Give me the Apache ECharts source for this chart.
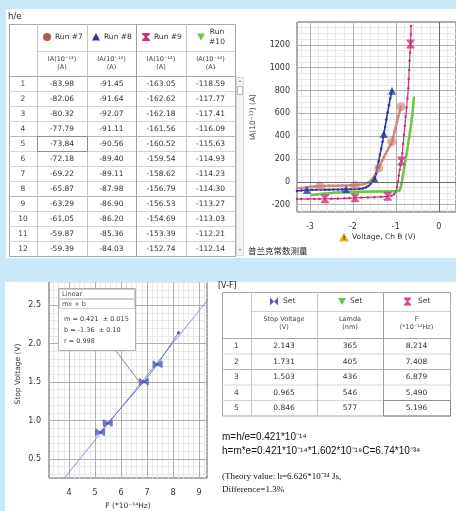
<!DOCTYPE html>
<html><head><meta charset="utf-8">
<script src="https://cdn.jsdelivr.net/npm/echarts@6/dist/echarts.min.js"></script>
<style>html,body{margin:0;padding:0;background:#cbe8f8;}#c{width:456px;height:511px;}</style>
</head><body><div id="c"></div>
<script>
// ---------- h/e table: first 12 photocurrent samples of each run (10^-13 A) ----------
const runNames = ['Run #7', 'Run #8', 'Run #9', 'Run #10'];
const run7Table = [-83.98, -82.06, -80.32, -77.79, -73.84, -72.18, -69.22, -65.87, -63.29, -61.05, -59.87, -59.39];
const run8Table = [-91.45, -91.64, -92.07, -91.11, -90.56, -89.40, -89.11, -87.98, -86.90, -86.20, -85.36, -84.03];
const run9Table = [-163.05, -162.62, -162.18, -161.56, -160.52, -159.54, -158.62, -156.79, -156.53, -154.69, -153.39, -152.74];
const run10Table = [-118.59, -117.77, -117.41, -116.09, -115.63, -114.93, -114.23, -114.30, -113.27, -113.03, -112.21, -112.14];

// ---------- I-V curves: [voltage Ch B (V), IA (10^-13 A)] ----------
const run7Curve = [[-3.30,-58],[-3.20,-54],[-3.10,-50],[-3.00,-46],[-2.90,-42],[-2.77,-38],[-2.65,-37],[-2.55,-36],[-2.45,-35],[-2.35,-34],[-2.25,-33],[-2.15,-32],[-2.05,-31],[-1.95,-30],[-1.85,-27],[-1.77,-23],[-1.70,-16],[-1.64,-6],[-1.58,10],[-1.53,32],[-1.48,60],[-1.44,88],[-1.40,120],[-1.36,152],[-1.32,184],[-1.28,214],[-1.24,244],[-1.20,272],[-1.16,300],[-1.12,326],[-1.09,351],[-1.06,392],[-1.03,438],[-1.00,483],[-0.97,530],[-0.94,576],[-0.91,617],[-0.88,658]];
const run8Curve = [[-3.30,-80],[-3.20,-77],[-3.07,-72],[-2.95,-71],[-2.85,-70],[-2.75,-70],[-2.65,-69],[-2.55,-69],[-2.45,-68],[-2.35,-68],[-2.25,-67],[-2.16,-66],[-2.05,-65],[-1.95,-64],[-1.85,-62],[-1.77,-58],[-1.70,-50],[-1.64,-38],[-1.59,-20],[-1.54,0],[-1.49,24],[-1.46,70],[-1.43,125],[-1.40,180],[-1.37,235],[-1.34,290],[-1.31,350],[-1.28,418],[-1.25,480],[-1.22,545],[-1.19,610],[-1.16,670],[-1.13,730],[-1.09,798]];
const run9Curve = [[-3.30,-152],[-3.20,-151],[-3.05,-150],[-2.90,-150],[-2.78,-150],[-2.65,-149],[-2.50,-148],[-2.35,-147],[-2.20,-145],[-2.08,-143],[-1.95,-141],[-1.80,-139],[-1.65,-137],[-1.50,-135],[-1.35,-132],[-1.19,-128],[-1.10,-122],[-1.04,-110],[-1.00,-85],[-0.97,-45],[-0.95,0],[-0.93,55],[-0.91,105],[-0.89,145],[-0.87,181],[-0.85,250],[-0.83,330],[-0.81,410],[-0.79,490],[-0.77,570],[-0.75,650],[-0.73,730],[-0.71,820],[-0.70,900],[-0.69,980],[-0.68,1060],[-0.67,1130],[-0.66,1208],[-0.65,1290],[-0.645,1366]];
const run10Curve = [[-2.96,-117],[-2.85,-112],[-2.75,-107],[-2.65,-103],[-2.55,-100],[-2.45,-97],[-2.35,-94],[-2.25,-92],[-2.15,-90],[-2.05,-89],[-1.95,-88],[-1.85,-88],[-1.75,-87],[-1.65,-87],[-1.55,-86],[-1.45,-86],[-1.35,-85],[-1.25,-85],[-1.15,-84],[-1.05,-83],[-0.97,-81],[-0.92,-76],[-0.89,-55],[-0.87,-20],[-0.85,25],[-0.83,70],[-0.81,115],[-0.79,160],[-0.77,200],[-0.75,245],[-0.73,290],[-0.71,340],[-0.69,390],[-0.67,440],[-0.65,490],[-0.63,545],[-0.61,600],[-0.60,650],[-0.59,695],[-0.58,736]];
// samples that carry the large run symbol
const run7Marks = [5, 13, 22, 30, 37];
const run8Marks = [2, 11, 20, 27, 33];
const run9Marks = [5, 10, 15, 24, 37];

// ---------- V-F table ----------
const setRows = [1, 2, 3, 4, 5];
const stopVoltage = [2.143, 1.731, 1.503, 0.965, 0.846];
const lamda = [365, 405, 436, 546, 577];
const freq = [8.214, 7.408, 6.879, 5.490, 5.196];
// linear fit  V = m*F + b
const fitM = 0.421, fitMErr = 0.015, fitB = -1.36, fitBErr = 0.10, fitR = 0.998;
const fitRange = [3.8, 9.4];

const C7 = '#c97a70', C8 = '#2b3a9e', C9 = '#c8347a', C10 = '#6cc64c', CSET = '#4d5ab4';
const BG = '#cbe8f8';
const FONT = '"DejaVu Sans"';
const HOURGLASS = 'path://M0,0 L10,0 L10,1.5 L6,5 L10,8.5 L10,10 L0,10 L0,8.5 L4,5 L0,1.5 Z';
const BOWTIE = 'path://M0,0 L1.5,0 L5,4 L8.5,0 L10,0 L10,10 L8.5,10 L5,6 L1.5,10 L0,10 Z';

const chart = echarts.init(document.getElementById('c'), null, {width: 456, height: 511});

function majorAxis(grid, min, max, step, fmt, extra, margin) {
  return Object.assign({
    type: 'value', gridIndex: grid, min, max, minInterval: step, maxInterval: step, z: 3,
    axisLine: {show: false}, axisTick: {show: false},
    axisLabel: {fontSize: 8, color: '#333', fontFamily: FONT, showMinLabel: false, showMaxLabel: false, formatter: fmt, margin: margin || 8},
    splitLine: {show: true, lineStyle: {color: '#b0b0b0', width: 1}}
  }, extra || {});
}
function minorAxis(grid, min, max, step) {
  return {
    type: 'value', gridIndex: grid, min, max, minInterval: step, maxInterval: step, z: 1,
    axisLine: {show: false}, axisTick: {show: false}, axisLabel: {show: false},
    splitLine: {show: true, lineStyle: {color: '#e8e8e8', width: 1}}
  };
}
function curve(data, color, width, xi, yi) {
  return {type: 'line', xAxisIndex: xi, yAxisIndex: yi, data, symbol: 'circle', symbolSize: 2.5,
    showSymbol: true, lineStyle: {color, width}, itemStyle: {color}, silent: true, animation: false, z: 3};
}
function marks(curveData, idx, color, symbol, size) {
  return {type: 'scatter', xAxisIndex: 0, yAxisIndex: 0, data: idx.map(i => curveData[i]),
    symbol, symbolSize: size, itemStyle: {color}, silent: true, animation: false, z: 4};
}

const fitLine = fitRange.map(f => [f, fitM * f + fitB]);
const setPoints = freq.map((f, i) => [f, stopVoltage[i]]);
const setSorted = setPoints.slice().sort((a, b) => a[0] - b[0]);

chart.setOption({
  animation: false,
  backgroundColor: BG,
  grid: [
    {left: 297, top: 22, width: 160, height: 190, show: true, borderColor: '#555', borderWidth: 1, backgroundColor: 'transparent'},
    {left: 49, top: 270, width: 158, height: 210, show: true, borderColor: '#555', borderWidth: 1, backgroundColor: 'transparent'}
  ],
  xAxis: [
    majorAxis(0, -3.3, 0.4, 1, v => String(v), null, 11),
    minorAxis(0, -3.3, 0.4, 0.2),
    majorAxis(1, 3.23, 9.31, 1, v => String(v), {name: 'F (*10\u207B\u00B9\u2074Hz)', nameLocation: 'middle', nameGap: 24,
      nameTextStyle: {fontSize: 7.5, color: '#333', fontFamily: FONT}}, 11),
    minorAxis(1, 3.23, 9.31, 0.2)
  ],
  yAxis: [
    majorAxis(0, -265, 1400, 200, v => String(v), {name: 'IA(10\u207B\u00B9\u00B3) (A)', nameLocation: 'middle', nameGap: 40,
      nameTextStyle: {fontSize: 7.5, color: '#333', fontFamily: FONT}}, 7),
    minorAxis(0, -265, 1400, 50),
    majorAxis(1, 0.25, 2.96, 0.5, v => v.toFixed(1), {name: 'Stop Voltage (V)', nameLocation: 'middle', nameGap: 27,
      nameTextStyle: {fontSize: 7.5, color: '#333', fontFamily: FONT}}, 8),
    minorAxis(1, 0.25, 2.96, 0.1)
  ],
  series: [
    Object.assign(curve(run7Curve, 'rgba(205,128,118,0.85)', 2.5, 0, 0), {
      markLine: {silent: true, symbol: 'none', label: {show: false}, animation: false,
        lineStyle: {color: '#6a6a6a', width: 1, type: 'solid'}, data: [{xAxis: 0}, {yAxis: 0}]}
    }),
    curve(run8Curve, C8, 1.6, 0, 0),
    curve(run9Curve, C9, 1.2, 0, 0),
    curve(run10Curve, C10, 2.5, 0, 0),
    marks(run7Curve, run7Marks, 'rgba(205,120,110,0.75)', 'circle', 9),
    marks(run8Curve, run8Marks, C8, 'triangle', 8),
    marks(run9Curve, run9Marks, C9, HOURGLASS, [8, 9]),
    {type: 'line', xAxisIndex: 2, yAxisIndex: 2, data: fitLine, symbol: 'none', lineStyle: {color: '#8a90d2', width: 1}, silent: true, z: 3},
    {type: 'line', xAxisIndex: 2, yAxisIndex: 2, data: setSorted, symbol: 'circle', symbolSize: 3, lineStyle: {color: '#7078c4', width: 1}, itemStyle: {color: CSET}, silent: true, z: 3},
    {type: 'scatter', xAxisIndex: 2, yAxisIndex: 2, data: setPoints.slice(1), symbol: BOWTIE, symbolSize: [10, 7], itemStyle: {color: CSET}, silent: true, z: 4}
  ]
});

// ---------- drawn panels, tables and notes ----------
const G = [];
function rect(x, y, w, h, style, z) { G.push({type: 'rect', shape: {x, y, width: w, height: h}, style, z: z == null ? 5 : z, silent: true}); }
function line(x1, y1, x2, y2, stroke, w, z) { G.push({type: 'line', shape: {x1, y1, x2, y2}, style: {stroke, lineWidth: w || 1}, z: z == null ? 6 : z, silent: true}); }
function text(x, y, t, o) {
  o = o || {};
  G.push({type: 'text', x, y, z: o.z == null ? 7 : o.z, silent: true,
    style: {text: t, fill: o.fill || '#333', font: o.font || ('7.5px ' + FONT),
      textAlign: o.align || 'center', textVerticalAlign: o.valign || 'middle',
      align: o.align || 'center', verticalAlign: o.valign || 'middle'}});
}
function poly(points, fill, z) { G.push({type: 'polygon', shape: {points}, style: {fill}, z: z == null ? 7 : z, silent: true}); }

// white panels
rect(6, 9, 450, 249, {fill: '#ffffff'}, -10);
rect(5, 282, 451, 229, {fill: '#ffffff'}, -10);
// band between the panels (also trims the top of the V-F plot)
rect(0, 258, 456, 24, {fill: BG}, 100);

// ---- h/e table ----
text(8, 17, 'h/e', {align: 'left', font: '8.5px ' + FONT, fill: '#222'});
const tX = [9, 37, 87, 136, 186, 235];
const tY0 = 24, tY1 = 51, tY2 = 76, tRow = 15;
const runCols = [run7Table, run8Table, run9Table, run10Table];
rect(tX[0] + 0.5, tY0 + 0.5, tX[5] - tX[0], tY2 + tRow * 12 - tY0, {fill: 'none', stroke: '#a8a8a8', lineWidth: 1}, 6);
line(tX[1] + 0.5, tY1 + 0.5, tX[5], tY1 + 0.5, '#d0d0d0');
line(tX[0], tY2 + 0.5, tX[5], tY2 + 0.5, '#a8a8a8');
for (let r = 1; r < 12; r++) line(tX[0], tY2 + r * tRow + 0.5, tX[5], tY2 + r * tRow + 0.5, r % 4 === 0 ? '#b8b8b8' : '#d4d4d4');
for (let c = 1; c < 5; c++) line(tX[c] + 0.5, tY0, tX[c] + 0.5, tY2 + tRow * 12, c === 3 ? '#a0a0a0' : '#c4c4c4');
// legend symbols in the header
G.push({type: 'circle', shape: {cx: 47, cy: 37, r: 4}, style: {fill: '#b8524e'}, z: 7, silent: true});
poly([[92, 40.5], [100, 40.5], [96, 33]], C8);
poly([[142, 33], [150, 33], [150, 34.2], [147, 37], [150, 39.8], [150, 41], [142, 41], [142, 39.8], [145, 37], [142, 34.2]], C9);
poly([[197, 33.5], [205, 33.5], [201, 40.5]], C10);
text(55, 37, runNames[0], {align: 'left'});
text(104, 37, runNames[1], {align: 'left'});
text(154, 37, runNames[2], {align: 'left'});
text(217, 32, runNames[3].split(' ')[0]);
text(217, 42, runNames[3].split(' ')[1]);
for (let c = 0; c < 4; c++) {
  const cx = (tX[c + 1] + tX[c + 2]) / 2;
  text(cx, 59, 'IA(10\u207B\u00B9\u00B3)', {font: '6.5px ' + FONT, fill: '#444'});
  text(cx, 67, '(A)', {font: '6.5px ' + FONT, fill: '#444'});
}
for (let r = 0; r < 12; r++) {
  const cy = tY2 + r * tRow + tRow / 2 + 0.5;
  text((tX[0] + tX[1]) / 2, cy, String(r + 1), {fill: '#444'});
  for (let c = 0; c < 4; c++) text((tX[c + 1] + tX[c + 2]) / 2, cy, runCols[c][r].toFixed(2));
}
// focused cell
rect(tX[1] + 0.5, tY2 + 4 * tRow + 0.5, tX[2] - tX[1], tRow, {fill: 'none', stroke: '#8c8c8c', lineWidth: 1}, 8);
// scroll bar
rect(236.5, 77.5, 7, 178, {fill: '#f3f3f3', stroke: '#dcdcdc', lineWidth: 1}, 6);
rect(237.5, 86.5, 5, 8, {fill: '#ffffff', stroke: '#b4b4b4', lineWidth: 1, r: 2}, 7);
poly([[238.5, 82], [241.5, 82], [240, 80]], '#9a9a9a');
poly([[238.5, 249], [241.5, 249], [240, 251]], '#9a9a9a');
text(248, 251, '普兰克常数测量', {align: 'left', font: '8.5px "Noto Sans CJK SC"', fill: '#222'});

// ---- I-V plot x axis title ----
poly([[339, 241.5], [349, 241.5], [344, 232.5]], '#e2b51c');
text(344, 238.5, '!', {font: 'bold 6px ' + FONT, fill: '#333'});
text(352, 237, 'Voltage, Ch B (V)', {align: 'left', font: '7.5px ' + FONT});

// ---- V-F table ----
text(218, 286, '[V-F]', {align: 'left', font: '8px ' + FONT, fill: '#222', z: 101});
const bX = [222, 251, 317, 383, 450];
const bY0 = 292, bY1 = 311, bY2 = 338, bRow = 15.5;
rect(bX[0] + 0.5, bY0 + 0.5, bX[4] - bX[0], bY2 + bRow * 5 - bY0, {fill: 'none', stroke: '#a8a8a8', lineWidth: 1}, 6);
line(bX[1], bY1 + 0.5, bX[4], bY1 + 0.5, '#d0d0d0');
line(bX[0], bY2 + 0.5, bX[4], bY2 + 0.5, '#a8a8a8');
for (let r = 1; r < 5; r++) line(bX[0], bY2 + r * bRow + 0.5, bX[4], bY2 + r * bRow + 0.5, r === 2 ? '#b8b8b8' : '#d4d4d4');
for (let c = 1; c < 4; c++) line(bX[c] + 0.5, bY0, bX[c] + 0.5, bY2 + bRow * 5, c === 3 ? '#a0a0a0' : '#c4c4c4');
poly([[270, 297.5], [274, 301.5], [270, 305.5]], CSET);
poly([[278, 297.5], [274, 301.5], [278, 305.5]], CSET);
poly([[338, 298], [346, 298], [342, 305]], C10);
poly([[404, 297.5], [411, 297.5], [411, 298.7], [408.3, 301.5], [411, 304.3], [411, 305.5], [404, 305.5], [404, 304.3], [406.7, 301.5], [404, 298.7]], '#d04a90');
text(283, 301.5, 'Set', {align: 'left'});
text(350, 301.5, 'Set', {align: 'left'});
text(418, 301.5, 'Set', {align: 'left'});
const bHead = [['Stop Voltage', '(V)'], ['Lamda', '(nm)'], ['F', '(*10\u207B\u00B9\u2074Hz)']];
bHead.forEach((h, c) => {
  const cx = (bX[c + 1] + bX[c + 2]) / 2;
  text(cx, 319, h[0], {font: '6.5px ' + FONT, fill: '#444'});
  text(cx, 327.5, h[1], {font: '6.5px ' + FONT, fill: '#444'});
});
for (let r = 0; r < 5; r++) {
  const cy = bY2 + r * bRow + bRow / 2 + 0.5;
  text((bX[0] + bX[1]) / 2, cy, String(setRows[r]), {fill: '#444'});
  text((bX[1] + bX[2]) / 2, cy, stopVoltage[r].toFixed(3));
  text((bX[2] + bX[3]) / 2, cy, String(lamda[r]));
  text((bX[3] + bX[4]) / 2, cy, freq[r].toFixed(3));
}
rect(bX[3] + 0.5, bY2 + 4 * bRow + 0.5, bX[4] - bX[3], bRow, {fill: 'none', stroke: '#8c8c8c', lineWidth: 1}, 8);

// ---- result notes ----
const SANS = '"Liberation Sans", Arial';
text(222, 437, 'm=h/e=' + fitM.toFixed(3) + '*10\u207B\u00B9\u2074', {align: 'left', font: '10px ' + SANS, fill: '#111'});
text(222, 451, 'h=m*e=' + fitM.toFixed(3) + '*10\u207B\u00B9\u2074*1.602*10\u207B\u00B9\u2079C=6.74*10\u207B\u00B3\u2074', {align: 'left', font: '10px ' + SANS, fill: '#111'});
text(222, 477, '(Theory value: h=6.626*10\u207B\u00B3\u2074 Js,', {align: 'left', font: '9px "Liberation Serif", serif', fill: '#111'});
text(222, 490, 'Difference=1.3%', {align: 'left', font: '9px "Liberation Serif", serif', fill: '#111'});

// ---- fit annotation on the V-F plot ----
const tip = chart.convertToPixel({gridIndex: 1}, [6.75, fitM * 6.75 + fitB]);
line(116, 351, tip[0], tip[1], '#8a8a8a', 1, 9);
rect(58.5, 288.5, 77, 62, {fill: '#ffffff', stroke: '#b0b0b0', lineWidth: 1}, 10);
rect(59.5, 289.5, 75, 9, {fill: '#ffffff', stroke: '#cfcfcf', lineWidth: 1}, 11);
rect(59.5, 299.5, 75, 9, {fill: '#ffffff', stroke: '#cfcfcf', lineWidth: 1}, 11);
text(62, 294, 'Linear', {align: 'left', font: '6.5px ' + FONT, fill: '#444', z: 12});
text(62, 304, 'mx + b', {align: 'left', font: '6.5px ' + FONT, fill: '#444', z: 12});
text(64, 319, 'm = ' + fitM.toFixed(3) + '  \u00B1 ' + fitMErr.toFixed(3), {align: 'left', font: '6.5px ' + FONT, fill: '#444', z: 12});
text(64, 330, 'b = ' + fitB.toFixed(2) + '  \u00B1 ' + fitBErr.toFixed(2), {align: 'left', font: '6.5px ' + FONT, fill: '#444', z: 12});
text(64, 341, 'r = ' + fitR.toFixed(3), {align: 'left', font: '6.5px ' + FONT, fill: '#444', z: 12});

chart.setOption({graphic: {elements: G}});
</script>
</body></html>
